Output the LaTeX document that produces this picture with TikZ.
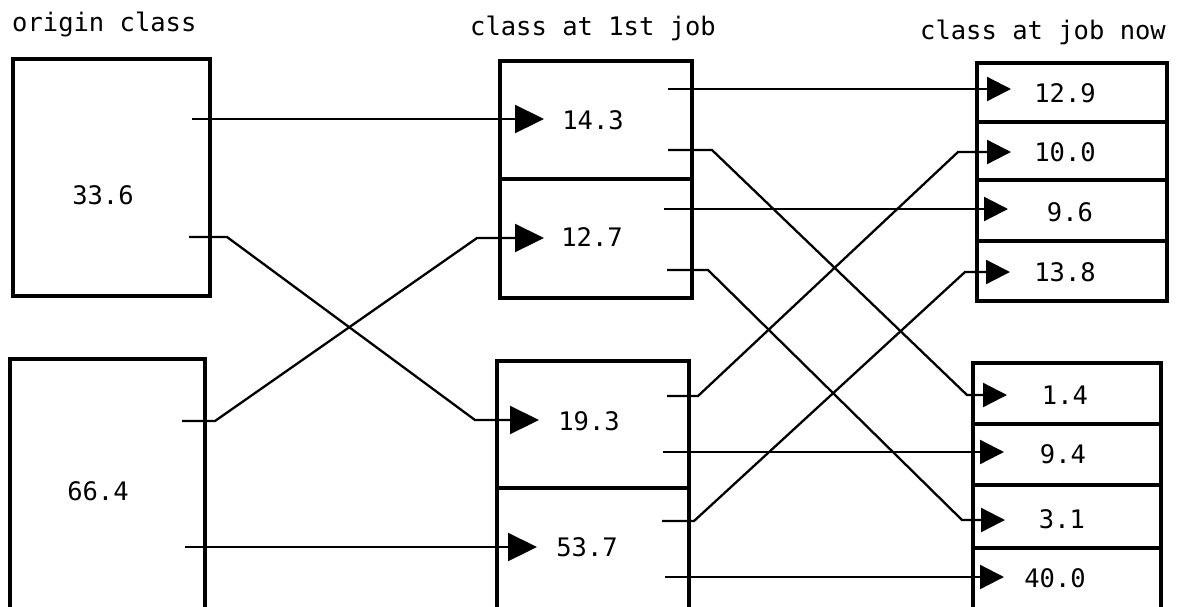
\documentclass[tikz,border=0pt]{standalone}
\usepackage{fontspec}
\setmonofont{DejaVu Sans Mono}
\usetikzlibrary{arrows.meta}
\begin{document}
\begin{tikzpicture}[x=1pt,y=-1pt,
  cell/.style={draw, line width=3.2pt, inner sep=0pt, outer sep=0pt},
  num/.style={font=\ttfamily\fontsize{25.5}{30}\selectfont, inner sep=0pt},
  flow/.style={line width=2.3pt, -{Triangle[length=29pt,width=28pt]}},
  flowR/.style={line width=2.3pt, -{Triangle[length=24pt,width=24pt]}},
]
\useasboundingbox (0,0) rectangle (1199,606);
\clip (0,0) rectangle (1199,606);

% column headings
\node[num, anchor=west] (h1) at (12,24) {origin class};
\node[num] (h2) at (593,28) {class at 1st job};
\node[num] (h3) at (1043,32) {class at job now};

% origin class
\node[cell, minimum width=197pt, minimum height=237pt] (A) at (111.5,177.5) {};
\node[cell, minimum width=195pt, minimum height=281pt] (B) at (107.5,499.5) {};

% class at first job
\node[cell, minimum width=192pt, minimum height=118pt] (M1) at (596,120) {};
\node[cell, minimum width=192pt, minimum height=119pt] (M2) at (596,238.5) {};
\node[cell, minimum width=192pt, minimum height=127pt] (M3) at (593,424.5) {};
\node[cell, minimum width=192pt, minimum height=152pt] (M4) at (593,564) {};

% class at job now
\node[cell, minimum width=190pt, minimum height=59pt] (R1) at (1072,92.5) {};
\node[cell, minimum width=190pt, minimum height=58pt] (R2) at (1072,151) {};
\node[cell, minimum width=190pt, minimum height=61pt] (R3) at (1072,210.5) {};
\node[cell, minimum width=190pt, minimum height=60pt] (R4) at (1072,271) {};
\node[cell, minimum width=188pt, minimum height=61pt] (R5) at (1067,393.5) {};
\node[cell, minimum width=188pt, minimum height=61pt] (R6) at (1067,454.5) {};
\node[cell, minimum width=188pt, minimum height=63pt] (R7) at (1067,516.5) {};
\node[cell, minimum width=188pt, minimum height=92pt] (R8) at (1067,594) {};

% percentages
\node[num] (tA) at (103,195) {33.6};
\node[num] (tB) at (98,491) {66.4};
\node[num] (t1) at (593,120) {14.3};
\node[num] (t2) at (592,237) {12.7};
\node[num] (t3) at (589,421) {19.3};
\node[num] (t4) at (587,547) {53.7};
\node[num] (r1) at (1065,93) {12.9};
\node[num] (r2) at (1065,152) {10.0};
\node[num] (r3) at (1070,212) {9.6};
\node[num] (r4) at (1065,272) {13.8};
\node[num] (r5) at (1065,395) {1.4};
\node[num] (r6) at (1063,454) {9.4};
\node[num] (r7) at (1062,519) {3.1};
\node[num] (r8) at (1055,578) {40.0};

% outgoing ports
\coordinate (oA1) at (192,119);
\coordinate (oA2) at (189,237);
\coordinate (oB1) at (182,421);
\coordinate (oB2) at (185,547);
\coordinate (o11) at (668,89);
\coordinate (o12) at (668,150);
\coordinate (o21) at (664,209);
\coordinate (o22) at (667,270);
\coordinate (o31) at (667,396);
\coordinate (o32) at (663,452);
\coordinate (o41) at (662,521);
\coordinate (o42) at (665,577);

% incoming ports (arrow tips)
\coordinate (i1) at (544,119);
\coordinate (i2) at (544,238);
\coordinate (i3) at (539,420);
\coordinate (i4) at (537,547);
\coordinate (j1) at (1011,89);
\coordinate (j2) at (1011,152);
\coordinate (j3) at (1008,209);
\coordinate (j4) at (1010,272);
\coordinate (j5) at (1007,395);
\coordinate (j6) at (1004,452);
\coordinate (j7) at (1005,520);
\coordinate (j8) at (1004,577);

% origin -> first job
\draw[flow] (oA1) -- (i1);
\draw[flow] (oA2) -- (227,237) -- (475,420) -- (i3);
\draw[flow] (oB1) -- (215,421) -- (477,238) -- (i2);
\draw[flow] (oB2) -- (i4);

% first job -> job now
\draw[flowR] (o11) -- (j1);
\draw[flowR] (o12) -- (712,150) -- (967,395) -- (j5);
\draw[flowR] (o21) -- (j3);
\draw[flowR] (o22) -- (708,270) -- (962,520) -- (j7);
\draw[flowR] (o31) -- (698,396) -- (958,152) -- (j2);
\draw[flowR] (o32) -- (j6);
\draw[flowR] (o41) -- (694,521) -- (965,272) -- (j4);
\draw[flowR] (o42) -- (j8);
\end{tikzpicture}
\end{document}
